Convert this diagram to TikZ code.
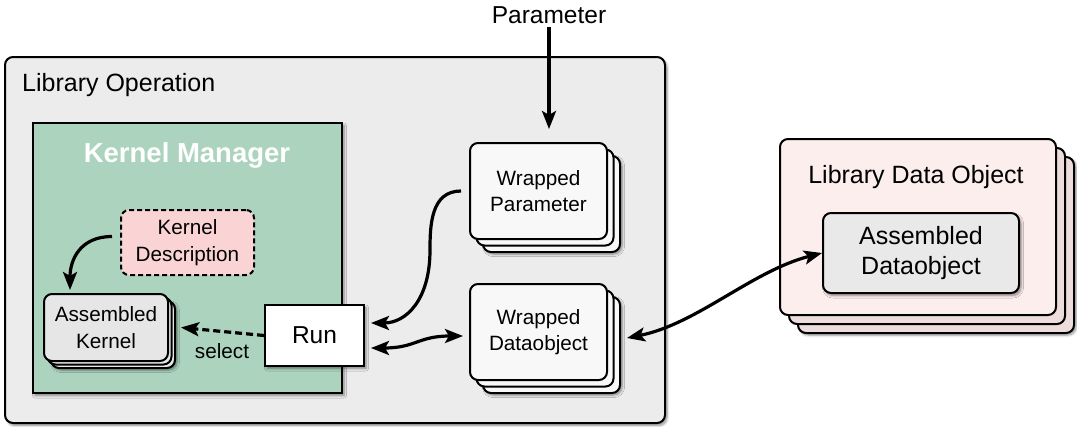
\documentclass[tikz,border=0pt]{standalone}
\usepackage{fontspec}
\setmainfont{Liberation Sans}
\usetikzlibrary{shadows,shadows.blur,arrows.meta,calc}

\definecolor{opgray}{HTML}{ECECEC}
\definecolor{kmgreen}{HTML}{ACD3BD}
\definecolor{kdpink}{HTML}{FAD4D4}
\definecolor{akgray}{HTML}{E6E6E6}
\definecolor{wrapwhite}{HTML}{F8F8F8}
\definecolor{ldopink}{HTML}{FDEEEE}
\definecolor{ldoback}{HTML}{ECDCDC}
\definecolor{adogray}{HTML}{E9E9E9}

\tikzset{
  x=1pt, y=1pt,
  box/.style={draw=black, line width=2pt, inner sep=0pt, align=center,
    font=\fontsize{20.7}{26.5}\selectfont},
  bigtext/.style={font=\fontsize{25}{30}\selectfont},
  soft/.style={blur shadow={shadow xshift=2pt, shadow yshift=-2.5pt,
    shadow blur radius=2.5pt, shadow blur steps=6, shadow opacity=45}},
  % a node with two copies of itself stacked behind it
  % #1 near offset, #2 far offset, #3 shadow offset, #4 front fill, #5 back fill
  stack/.style n args={5}{
    blur shadow={shadow xshift=#3, shadow yshift=-#3,
      shadow blur radius=2.5pt, shadow blur steps=6, shadow opacity=45},
    general shadow={shadow xshift=#2, shadow yshift=-#2, fill=#5, draw=black, line width=2pt},
    general shadow={shadow xshift=#1, shadow yshift=-#1, fill=#5, draw=black, line width=2pt},
    fill=#4},
  tip/.tip={Stealth[length=18pt,width=14pt,inset=4pt]},
  arr/.style={line width=3.2pt, -tip},
  darr/.style={line width=3.2pt, tip-tip},
}

\begin{document}
\begin{tikzpicture}
\useasboundingbox (0,0) rectangle (1077,-426);

% outer operation frame
\node[box, soft, fill=opgray, rounded corners=8pt, minimum width=660pt, minimum height=366pt] (libop) at (335,-240) {};
\node[bigtext, anchor=base west, inner sep=0pt] (libopt) at (22,-91) {Library Operation};

% kernel manager
\node[box, soft, fill=kmgreen, minimum width=309pt, minimum height=270pt] (km) at (187.5,-258) {};
\node[anchor=base, inner sep=0pt, text=white, font=\fontsize{27.5}{32}\selectfont\bfseries] (kmt) at (187,-162) {Kernel Manager};

\node[box, dash pattern=on 5pt off 3pt, fill=kdpink, rounded corners=8pt, minimum width=133pt, minimum height=65pt] (kd) at (187.5,-242.5) {Kernel\\Description};

\node[box, rounded corners=8pt, stack={3.5pt}{7pt}{9pt}{akgray}{akgray}, minimum width=124pt, minimum height=67pt] (ak) at (106,-327.5) {Assembled\\Kernel};

\node[box, soft, fill=white, minimum width=99pt, minimum height=61pt, font=\fontsize{24.5}{29}\selectfont] (run) at (314.5,-335.5) {Run};

% wrapped objects
\node[box, rounded corners=8pt, stack={6.5pt}{13pt}{15pt}{wrapwhite}{wrapwhite}, minimum width=137pt, minimum height=96pt] (wp) at (538.5,-191) {Wrapped\\Parameter};
\node[box, rounded corners=8pt, stack={6.5pt}{13pt}{15pt}{wrapwhite}{wrapwhite}, minimum width=137pt, minimum height=96pt] (wd) at (538.5,-332) {Wrapped\\Dataobject};

\node[font=\fontsize{24.5}{29}\selectfont, anchor=base, inner sep=0pt] (param) at (549,-23) {Parameter};

% library data object
\node[box, rounded corners=8pt, stack={9pt}{18pt}{20pt}{ldopink}{ldoback}, minimum width=276pt, minimum height=176pt] (ldo) at (918,-227) {};
\node[bigtext, anchor=base, inner sep=0pt] (ldot) at (916,-183) {Library Data Object};
\node[box, soft, fill=adogray, rounded corners=8pt, minimum width=196pt, minimum height=80pt, font=\fontsize{25}{30}\selectfont] (ado) at (921,-253) {Assembled\\Dataobject};

% connectors
\draw[arr, shorten <=4pt, shorten >=13pt] (param.south) -- (param.south |- wp.north);
\draw[arr] ([shift={(-8,6)}]kd.west) .. controls +(-32,0) and +(0,30) .. ([shift={(-36,3)}]ak.north);
\draw[arr, dash pattern=on 7pt off 4pt] (run.west) -- ([xshift=12pt]ak.east);
\node[box, draw=none, anchor=base] (sel) at (222,-358) {select};
\draw[arr] ([xshift=-8pt]wp.west) .. controls +(-30,0) and +(0,25) .. (430,-250)
  .. controls +(0,-50) and +(35,0) .. ([shift={(6,12.5)}]run.east);
\draw[darr] ([shift={(6,-12.5)}]run.east) .. controls +(45,0) and +(-45,0) .. ([shift={(-6,-4)}]wd.west);
\draw[darr] ([shift={(19,-6)}]wd.east) .. controls +(70,14) and +(-70,-18) .. (ado.west);
\end{tikzpicture}
\end{document}
